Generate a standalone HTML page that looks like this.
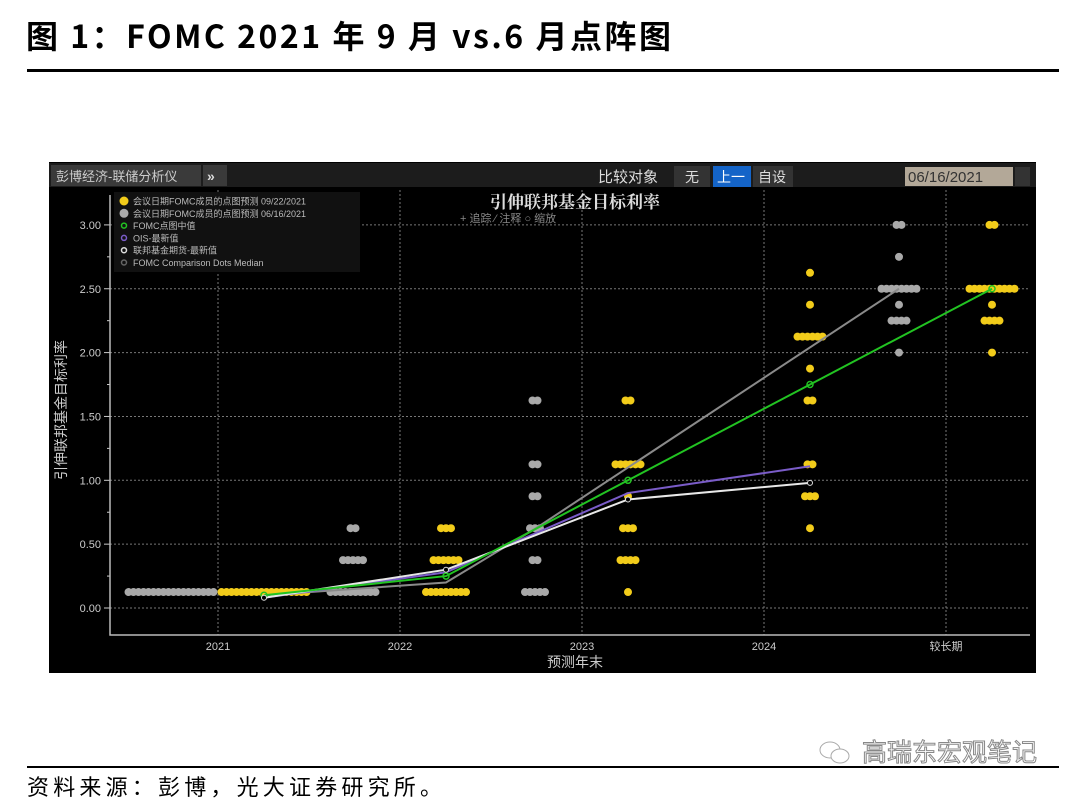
<!DOCTYPE html>
<html><head><meta charset="utf-8">
<style>
html,body{margin:0;padding:0;background:#fff;}
body{width:1080px;height:804px;overflow:hidden;position:relative;font-family:"Liberation Sans","Noto Sans CJK SC",sans-serif;}
#title{position:absolute;left:26px;top:12px;font-family:"Noto Sans CJK SC",sans-serif;font-weight:bold;font-size:32px;letter-spacing:2.5px;color:#000;white-space:nowrap;}
#rule1{position:absolute;left:27px;top:69px;width:1032px;height:3px;background:#000;}
#rule2{position:absolute;left:27px;top:766px;width:1032px;height:2px;background:#000;}
#source{position:absolute;left:27px;top:770px;font-family:"Noto Sans CJK SC",sans-serif;font-size:22px;letter-spacing:4.2px;color:#000;white-space:nowrap;}
#wm{position:absolute;left:862px;top:733px;font-family:"Noto Sans CJK SC",sans-serif;font-size:25px;color:#fff;-webkit-text-stroke:1px #888;}
#wmicon{position:absolute;left:818px;top:740px;width:34px;height:26px;}
svg#chart{position:absolute;left:0;top:0;}
</style></head><body>
<div id="title">图 1：FOMC 2021 年 9 月 vs.6 月点阵图</div>
<div id="rule1"></div>
<svg id="chart" width="1080" height="804"></svg>
<div id="rule2"></div>
<div id="source">资料来源：彭博，光大证券研究所。</div>
<svg id="wmicon" viewBox="0 0 34 26"><ellipse cx="12" cy="10" rx="10" ry="8" fill="#fff" stroke="#aaa"/><ellipse cx="22" cy="16" rx="9" ry="7" fill="#fff" stroke="#aaa"/></svg>
<div id="wm">高瑞东宏观笔记</div>
<script>
const categories=["2021","2022","2023","2024","较长期"];
const yTicks=[0,0.5,1,1.5,2,2.5,3];
const yTickLabels=["0.00","0.50","1.00","1.50","2.00","2.50","3.00"];
const septRates=[[0.125],[0.125,0.375,0.625],[0.125,0.375,0.625,0.875,1.125,1.625],[0.625,0.875,1.125,1.625,1.875,2.125,2.375,2.625],[2.0,2.25,2.375,2.5,3.0]];
const septCounts=[[18],[9,6,3],[1,4,3,1,6,2],[1,3,2,2,1,6,1,1],[1,4,1,10,2]];
const juneRates=[[0.125],[0.125,0.375,0.625],[0.125,0.375,0.625,0.875,1.125,1.625],[],[2.0,2.25,2.375,2.5,2.75,3.0]];
const juneCounts=[[18],[10,5,2],[5,2,3,2,2,2],[],[1,4,1,8,1,2]];
const fomcMedian=[0.1,0.25,1.0,1.75,2.5];
const juneMedianCats=[0,1,2,4];
const juneMedian=[0.1,0.2,0.62,2.5];
const oisValues=[0.08,0.28,0.9,1.11];
const futuresValues=[0.08,0.3,0.85,0.98];

const svg=document.getElementById('chart');
const NS='http://www.w3.org/2000/svg';
function el(t,a,p){const e=document.createElementNS(NS,t);for(const k in a)e.setAttribute(k,a[k]);(p||svg).appendChild(e);return e;}
function yS(v){return 608-v*127.7;}
function xC(i){return 218+i*182;}
function xSept(i){return xC(i)+46;}
function xJune(i){return xC(i)-47;}

let r=el('rect',{x:49,y:162,width:987,height:511,fill:'#000'});

r=el('rect',{x:49,y:163,width:987,height:24,fill:'#1c1c1c'});

r=el('rect',{x:51,y:165,width:150,height:21,fill:'#3a3a3a'});

let t=el('text',{x:56,y:181,fill:'#ccc','font-size':13});t.textContent='彭博经济-联储分析仪';

r=el('rect',{x:203,y:165,width:24,height:21,fill:'#3a3a3a'});

t=el('text',{x:207,y:181,fill:'#ddd','font-size':14,'font-weight':'bold'});t.textContent='»';

t=el('text',{x:598,y:182,fill:'#ddd','font-size':15});t.textContent='比较对象';

r=el('rect',{x:674,y:166,width:36,height:21,fill:'#333'});

t=el('text',{x:685,y:182,fill:'#ddd','font-size':14});t.textContent='无';
r=el('rect',{x:713,y:166,width:38,height:21,fill:'#1464c8'});

t=el('text',{x:717,y:182,fill:'#fff','font-size':14});t.textContent='上一';
r=el('rect',{x:753,y:166,width:40,height:21,fill:'#333'});

t=el('text',{x:758,y:182,fill:'#ddd','font-size':14});t.textContent='自设';
r=el('rect',{x:905,y:167,width:108,height:19,fill:'#b3a898'});

t=el('text',{x:908,y:182,fill:'#333','font-size':15});t.textContent='06/16/2021';
r=el('rect',{x:1015,y:167,width:15,height:19,fill:'#333'});


for(let i=0;i<yTicks.length;i++){
  const y=yS(yTicks[i]);
  let g=el('line',{x1:110,x2:1030,y1:y,y2:y,stroke:'#777','stroke-width':1,'stroke-dasharray':'2,2'});
  
  el('line',{x1:104,x2:110,y1:y,y2:y,stroke:'#ccc'});
  let l=el('text',{x:101,y:y+4,fill:'#ccc','font-size':11,'text-anchor':'end'});l.textContent=yTickLabels[i];
  
  if(i<yTicks.length-1) el('line',{x1:107,x2:110,y1:yS(yTicks[i]+0.25),y2:yS(yTicks[i]+0.25),stroke:'#ccc'});
}
for(let i=0;i<categories.length;i++){
  const x=xC(i);
  let g=el('line',{x1:x,x2:x,y1:190,y2:635,stroke:'#777','stroke-width':1,'stroke-dasharray':'2,2'});
  
  let l=el('text',{x:x,y:650,fill:'#ccc','font-size':11,'text-anchor':'middle'});l.textContent=categories[i];
  
}
let ax=el('polyline',{points:'110,195 110,635 1030,635',fill:'none',stroke:'#bbb','stroke-width':1.5});

t=el('text',{x:575,y:667,fill:'#ccc','font-size':14,'text-anchor':'middle'});t.textContent='预测年末';

t=el('text',{x:0,y:0,fill:'#ccc','font-size':14,'text-anchor':'middle',transform:'translate(66,410) rotate(-90)'});t.textContent='引伸联邦基金目标利率';

t=el('text',{x:575,y:208,fill:'#ddd','font-size':17,'font-weight':'bold','text-anchor':'middle','font-family':'"Noto Serif CJK SC",serif'});t.textContent='引伸联邦基金目标利率';

t=el('text',{x:460,y:222,fill:'#888','font-size':11});t.textContent='+ 追踪   ⁄ 注释   ○ 缩放';


function dots(rates,counts,xf,color,name){
  for(let i=0;i<rates.length;i++){
    for(let j=0;j<rates[i].length;j++){
      const n=counts[i][j],x0=xf(i)-(n-1)*2.5;
      for(let k=0;k<n;k++){
        const c=el('circle',{cx:x0+k*5,cy:yS(rates[i][j]),r:4,fill:color});
        
        
      }
    }
  }
}
dots(juneRates,juneCounts,xJune,'#a9a9a9','june-dot');
dots(septRates,septCounts,xSept,'#f2cc1a','sept-dot');

function line(vals,xs,color,name,w){
  const pts=vals.map((v,i)=>xs[i]+','+yS(v)).join(' ');
  const p=el('polyline',{points:pts,fill:'none',stroke:color,'stroke-width':w});
  
  
  return p;
}
const juneXs=juneMedianCats.map(c=>c<2?xSept(c):xJune(c));
line(juneMedian,juneXs,'#8a8a8a','june-median-line',2);
line(oisValues,oisValues.map((v,i)=>xSept(i)),'#7a5cc8','ois-line',2);
line(futuresValues,futuresValues.map((v,i)=>xSept(i)),'#e8e8e8','futures-line',2);
line(fomcMedian,fomcMedian.map((v,i)=>xSept(i)),'#22c322','fomc-median-line',2);
fomcMedian.forEach((v,i)=>{const c=el('circle',{cx:xSept(i),cy:yS(v),r:3,fill:'none',stroke:'#22c322','stroke-width':1.5});
});
futuresValues.forEach((v,i)=>{const c=el('circle',{cx:xSept(i),cy:yS(v),r:2.5,fill:'#000',stroke:'#ddd','stroke-width':1});
});

const lg=el('g',{});

el('rect',{x:114,y:192,width:246,height:80,fill:'#111'},lg);
const legendTexts=['会议日期FOMC成员的点图预测 09/22/2021','会议日期FOMC成员的点图预测 06/16/2021','FOMC点图中值','OIS-最新值','联邦基金期货-最新值','FOMC Comparison Dots Median'];
const legendColors=['#f2cc1a','#aaa','#22c322','#7a5cc8','#ddd','#666'];
legendTexts.forEach((s,i)=>{
  const y=201+i*12.3;
  let c;
  if(i<2) c=el('circle',{cx:124,cy:y,r:4.5,fill:legendColors[i]},lg);
  else c=el('circle',{cx:124,cy:y,r:2.5,fill:'none',stroke:legendColors[i],'stroke-width':1.5},lg);
  
  const tx=el('text',{x:133,y:y+3.5,fill:'#bbb','font-size':9},lg);tx.textContent=s;
  
});
</script>
</body></html>
